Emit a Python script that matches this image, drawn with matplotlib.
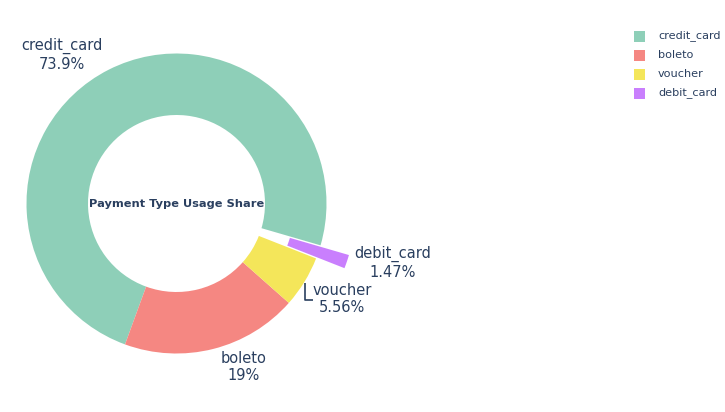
import matplotlib
matplotlib.use("Agg")
import matplotlib.pyplot as plt

# payment type counts
payment_types = ["credit_card", "boleto", "voucher", "debit_card"]
payment_counts = [76795, 19784, 5775, 1529]
slice_colors = ["#8ecfb8", "#f58782", "#f4e65a", "#c97ffd"]
pull = [0, 0, 0, 0.2]

txt_color = "#2a3f5f"

fig = plt.figure(figsize=(7.25, 4.12), dpi=100)
ax = fig.add_axes([0, 0, 1, 1])

cx, cy, R = 176.5, 412 - 203.5, 150
# matplotlib's explode is in data units, not radius fraction
wedges, _ = ax.pie(payment_counts, colors=slice_colors,
                   explode=[p * R for p in pull],
                   startangle=-16.2, counterclock=True, center=(cx, cy),
                   radius=R, wedgeprops=dict(width=R * 0.41, linewidth=0),
                   frame=True)
ax.set_xlim(0, 725)
ax.set_ylim(0, 412)
ax.set_aspect("equal")
ax.axis("off")

total = sum(payment_counts)
pcts = [c / total * 100 for c in payment_counts]

# outside labels (pixel positions of text centres, top-left origin)
label_pos = [(62, 55), (244, 367), (342, 299), (393, 263)]
for name, p, (lx, ly) in zip(payment_types, pcts, label_pos):
    ax.text(lx, 412 - ly, "%s\n%s%%" % (name, format(p, ".3g")),
            ha="center", va="center", fontsize=10.5, color=txt_color,
            linespacing=1.2)

# leader line for voucher
ax.plot([305, 305, 313], [412 - 283, 412 - 300, 412 - 300],
        color=txt_color, lw=1.2, solid_capstyle="butt")

ax.text(cx, cy, "Payment Type Usage Share", ha="center", va="center",
        fontsize=8.2, fontweight="bold", color=txt_color)

# legend
for i, (name, col) in enumerate(zip(payment_types, slice_colors)):
    y = 412 - (36 + i * 19)
    ax.add_patch(plt.Rectangle((634, y - 5.5), 11, 11, color=col, lw=0))
    ax.text(658, y, name, ha="left", va="center", fontsize=8.1,
            color=txt_color)

fig.savefig("out.png", dpi=100)
